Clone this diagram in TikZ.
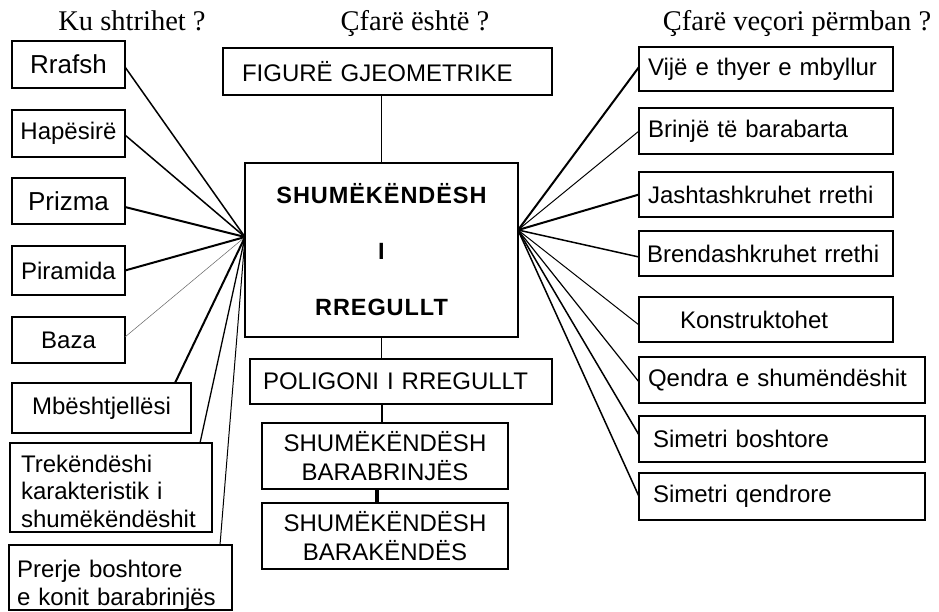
\documentclass[tikz,border=0pt]{standalone}
\usepackage{fontspec}
\setmainfont{Liberation Sans}
\newfontfamily\serifhead{Liberation Serif}
\newfontfamily\spacedbold[LetterSpace=4]{Liberation Sans Bold}
\begin{document}
\begin{tikzpicture}[x=1pt,y=-1pt,
  box/.style={draw, line width=2.8pt, inner sep=0pt, outer sep=0pt, font=\fontsize{24}{28}\selectfont},
  bigbox/.style={box, font=\fontsize{26}{30}\selectfont},
  lbox/.style={box, align=left},
  cbox/.style={box, align=center},
  wire/.style={line width=#1, line cap=round},
  wire/.default=1.5pt,
  head/.style={font=\serifhead\fontsize{28.5}{32}\selectfont, anchor=base, inner sep=0pt}]
\useasboundingbox (0,0) rectangle (939,611);

% headers
\node[head] (h1) at (132,30) {Ku shtrihet ?};
\node[head] (h2) at (415,30) {Çfarë është ?};
\node[head] (h3) at (797,30) {Çfarë veçori përmban ?};

% left column
\node[bigbox, minimum width=113pt, minimum height=47pt] (rrafsh) at (68.5,64.5) {Rrafsh};
\node[box, minimum width=113pt, minimum height=47pt] (hap) at (68.5,133.5) {Hapësirë};
\node[bigbox, minimum width=113pt, minimum height=46pt] (priz) at (68.5,201) {Prizma};
\node[box, minimum width=113pt, minimum height=49pt] (pir) at (68.5,270.5) {Piramida};
\node[box, minimum width=113pt, minimum height=46pt] (baza) at (68.5,340) {Baza};
\node[box, minimum width=179pt, minimum height=50pt] (mb) at (101.5,408) {Mbështjellësi};
\node[lbox, text width=180pt, inner xsep=11pt, font=\fontsize{24}{27.5}\selectfont, anchor=north] (trek) at (111,443)
  {\rule{0pt}{29pt}Trekëndëshi\\karakteristik i\\shumëkëndëshit\rule[-5pt]{0pt}{5pt}};
\node[lbox, text width=207pt, inner xsep=8pt, anchor=north] (prer) at (120.5,545)
  {\rule{0pt}{32pt}Prerje boshtore\\e konit barabrinjës\rule[-5pt]{0pt}{5pt}};

% centre column
\node[lbox, text width=291pt, inner xsep=19pt, minimum height=47pt] (fig) at (387.5,71.5) {FIGURË GJEOMETRIKE};
\node[cbox, minimum width=273pt, minimum height=174pt, font=\spacedbold\fontsize{23.5}{56}\selectfont] (main) at (381.5,250) {SHUMËKËNDËSH\\I\\RREGULLT};
\node[lbox, text width=276pt, inner xsep=13pt, minimum height=45pt] (poli) at (401,381.5) {POLIGONI I RREGULLT};
\node[cbox, minimum width=246pt, minimum height=66pt, font=\fontsize{24}{29}\selectfont] (barab) at (385,456) {SHUMËKËNDËSH\\BARABRINJËS};
\node[cbox, minimum width=246pt, minimum height=66pt, font=\fontsize{24}{29}\selectfont] (barak) at (385,536) {SHUMËKËNDËSH\\BARAKËNDËS};

% right column
\node[lbox, text width=236pt, inner xsep=9pt, minimum height=44pt] (vije) at (766,69) {Vijë e thyer e mbyllur};
\node[lbox, text width=236pt, inner xsep=9pt, minimum height=46pt] (brinje) at (766,131) {Brinjë të barabarta};
\node[lbox, text width=236pt, inner xsep=9pt, minimum height=45pt] (jasht) at (766,194.5) {Jashtashkruhet rrethi};
\node[lbox, text width=238pt, inner xsep=8pt, minimum height=45pt] (brend) at (766,253.5) {Brendashkruhet rrethi};
\node[lbox, text width=172pt, inner xsep=41pt, minimum height=45pt] (konstr) at (766,319.5) {Konstruktohet};
\node[lbox, text width=268pt, inner xsep=9pt, minimum height=46pt] (qendra) at (782,380) {Qendra e shumëndëshit};
\node[lbox, text width=258pt, inner xsep=14pt, minimum height=46pt] (simb) at (782,439) {Simetri boshtore};
\node[lbox, text width=258pt, inner xsep=14pt, minimum height=47pt] (simq) at (782,496.5) {Simetri qendrore};

% hubs
\coordinate (L) at ([yshift=13pt]main.west);
\coordinate (R) at ([yshift=20pt]main.east);

% left connectors
\draw[wire] ([yshift=-2.5pt]rrafsh.east) -- (L);
\draw[wire] ([yshift=-1.5pt]hap.east) -- (L);
\draw[wire=2pt] ([yshift=-6pt]priz.east) -- (L);
\draw[wire=2pt] (pir.east) -- (L);
\draw[wire=0.5pt, black!60] ([yshift=3pt]baza.east) -- (L);
\draw[wire=2pt] ([xshift=-16pt]mb.north east) -- (L);
\draw[wire=1.3pt] ([xshift=-12pt]trek.north east) -- (L);
\draw[wire=1pt] ([xshift=-12pt]prer.north east) -- (L);

% right connectors
\draw[wire=2pt] ([yshift=2pt]vije.west) -- (R);
\draw[wire=1pt] (brinje.west) -- (R);
\draw[wire=2pt] (jasht.west) -- (R);
\draw[wire=1.5pt] ([yshift=-3.5pt]brend.west) -- (R);
\draw[wire=1pt] ([yshift=-5.5pt]konstr.west) -- (R);
\draw[wire=1.2pt] ([yshift=-2pt]qendra.west) -- (R);
\draw[wire=1.5pt] ([yshift=4pt]simb.west) -- (R);
\draw[wire=1.5pt] (simq.west) -- (R);

% centre connectors
\draw[wire=1.5pt] (main.north) -- (main.north |- fig.south);
\draw[wire=1.5pt] (main.south) -- (main.south |- poli.north);
\draw[wire=1.5pt] ([xshift=-3pt]barab.north) -- ([xshift=-3pt]barab.north |- poli.south);
\draw[line width=4pt] ([xshift=-8pt]barab.south) -- ([xshift=-8pt]barak.north);
\end{tikzpicture}
\end{document}
